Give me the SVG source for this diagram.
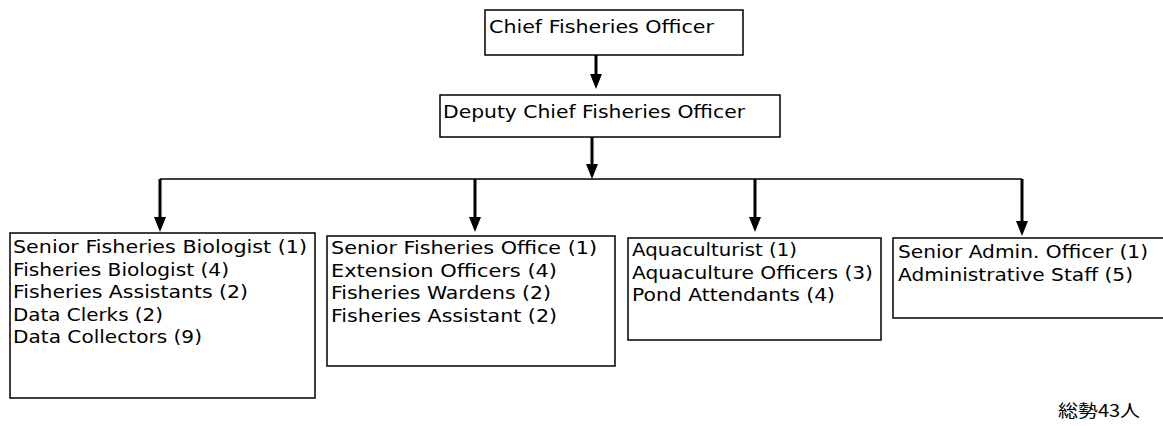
<svg xmlns="http://www.w3.org/2000/svg" width="1163" height="426" viewBox="0 0 1163 426">
<style>
.box{fill:#fff;stroke:#000;stroke-width:1.5}
.t{font-family:"DejaVu Sans","Liberation Sans",sans-serif;font-size:17px;fill:#000}
.c{stroke:#000;stroke-width:3;fill:none}
.h{stroke:#000;stroke-width:1.5;fill:none}
.j{font-family:"Noto Sans CJK JP",sans-serif;font-size:17px;fill:#000}
</style>
<defs>
<marker id="ah" viewBox="0 0 15 12" markerUnits="userSpaceOnUse" markerWidth="15" markerHeight="12" refX="10" refY="6" orient="auto">
<path d="M0,0 L15,6 L0,12 Z" fill="#000"/>
</marker>
</defs>
<rect width="1163" height="426" fill="#fff"/>
<g id="connectors">
<line class="c" x1="596" y1="55" x2="596" y2="84" marker-end="url(#ah)"/>
<line class="c" x1="592" y1="137" x2="592" y2="174" marker-end="url(#ah)"/>
<polyline class="h" points="160,179 1022,179"/>
<line class="c" x1="160" y1="179" x2="160" y2="227" marker-end="url(#ah)"/>
<line class="c" x1="475" y1="179" x2="475" y2="227" marker-end="url(#ah)"/>
<line class="c" x1="755" y1="179" x2="755" y2="227" marker-end="url(#ah)"/>
<line class="c" x1="1022" y1="179" x2="1022" y2="231" marker-end="url(#ah)"/>
</g>
<g id="chief">
<rect class="box" x="485" y="10" width="258" height="45"/>
<text class="t" x="489" y="33" textLength="225" lengthAdjust="spacingAndGlyphs">Chief Fisheries Officer</text>
</g>
<g id="deputy">
<rect class="box" x="440" y="95" width="340" height="42"/>
<text class="t" x="443" y="118" textLength="302" lengthAdjust="spacingAndGlyphs">Deputy Chief Fisheries Officer</text>
</g>
<g id="biology">
<rect class="box" x="10" y="233" width="305" height="165"/>
<text class="t" x="13" y="253" textLength="294" lengthAdjust="spacingAndGlyphs">Senior Fisheries Biologist (1)</text>
<text class="t" x="13" y="275.5" textLength="216" lengthAdjust="spacingAndGlyphs">Fisheries Biologist (4)</text>
<text class="t" x="13" y="298" textLength="235" lengthAdjust="spacingAndGlyphs">Fisheries Assistants (2)</text>
<text class="t" x="13" y="320.5" textLength="150" lengthAdjust="spacingAndGlyphs">Data Clerks (2)</text>
<text class="t" x="13" y="343" textLength="189" lengthAdjust="spacingAndGlyphs">Data Collectors (9)</text>
</g>
<g id="extension">
<rect class="box" x="327" y="236" width="288" height="130"/>
<text class="t" x="331" y="254" textLength="266" lengthAdjust="spacingAndGlyphs">Senior Fisheries Office (1)</text>
<text class="t" x="331" y="277" textLength="226" lengthAdjust="spacingAndGlyphs">Extension Officers (4)</text>
<text class="t" x="331" y="299" textLength="220" lengthAdjust="spacingAndGlyphs">Fisheries Wardens (2)</text>
<text class="t" x="331" y="322" textLength="226" lengthAdjust="spacingAndGlyphs">Fisheries Assistant (2)</text>
</g>
<g id="aquaculture">
<rect class="box" x="628" y="238" width="253" height="102"/>
<text class="t" x="632" y="256" textLength="165" lengthAdjust="spacingAndGlyphs">Aquaculturist (1)</text>
<text class="t" x="632" y="279" textLength="241" lengthAdjust="spacingAndGlyphs">Aquaculture Officers (3)</text>
<text class="t" x="632" y="301" textLength="203" lengthAdjust="spacingAndGlyphs">Pond Attendants (4)</text>
</g>
<g id="admin">
<rect class="box" x="893" y="238" width="290" height="80"/>
<text class="t" x="898" y="258" textLength="250" lengthAdjust="spacingAndGlyphs">Senior Admin. Officer (1)</text>
<text class="t" x="898" y="281" textLength="235" lengthAdjust="spacingAndGlyphs">Administrative Staff (5)</text>
</g>
<text class="j" x="1058" y="417" textLength="82" lengthAdjust="spacingAndGlyphs">総勢43人</text>
</svg>
